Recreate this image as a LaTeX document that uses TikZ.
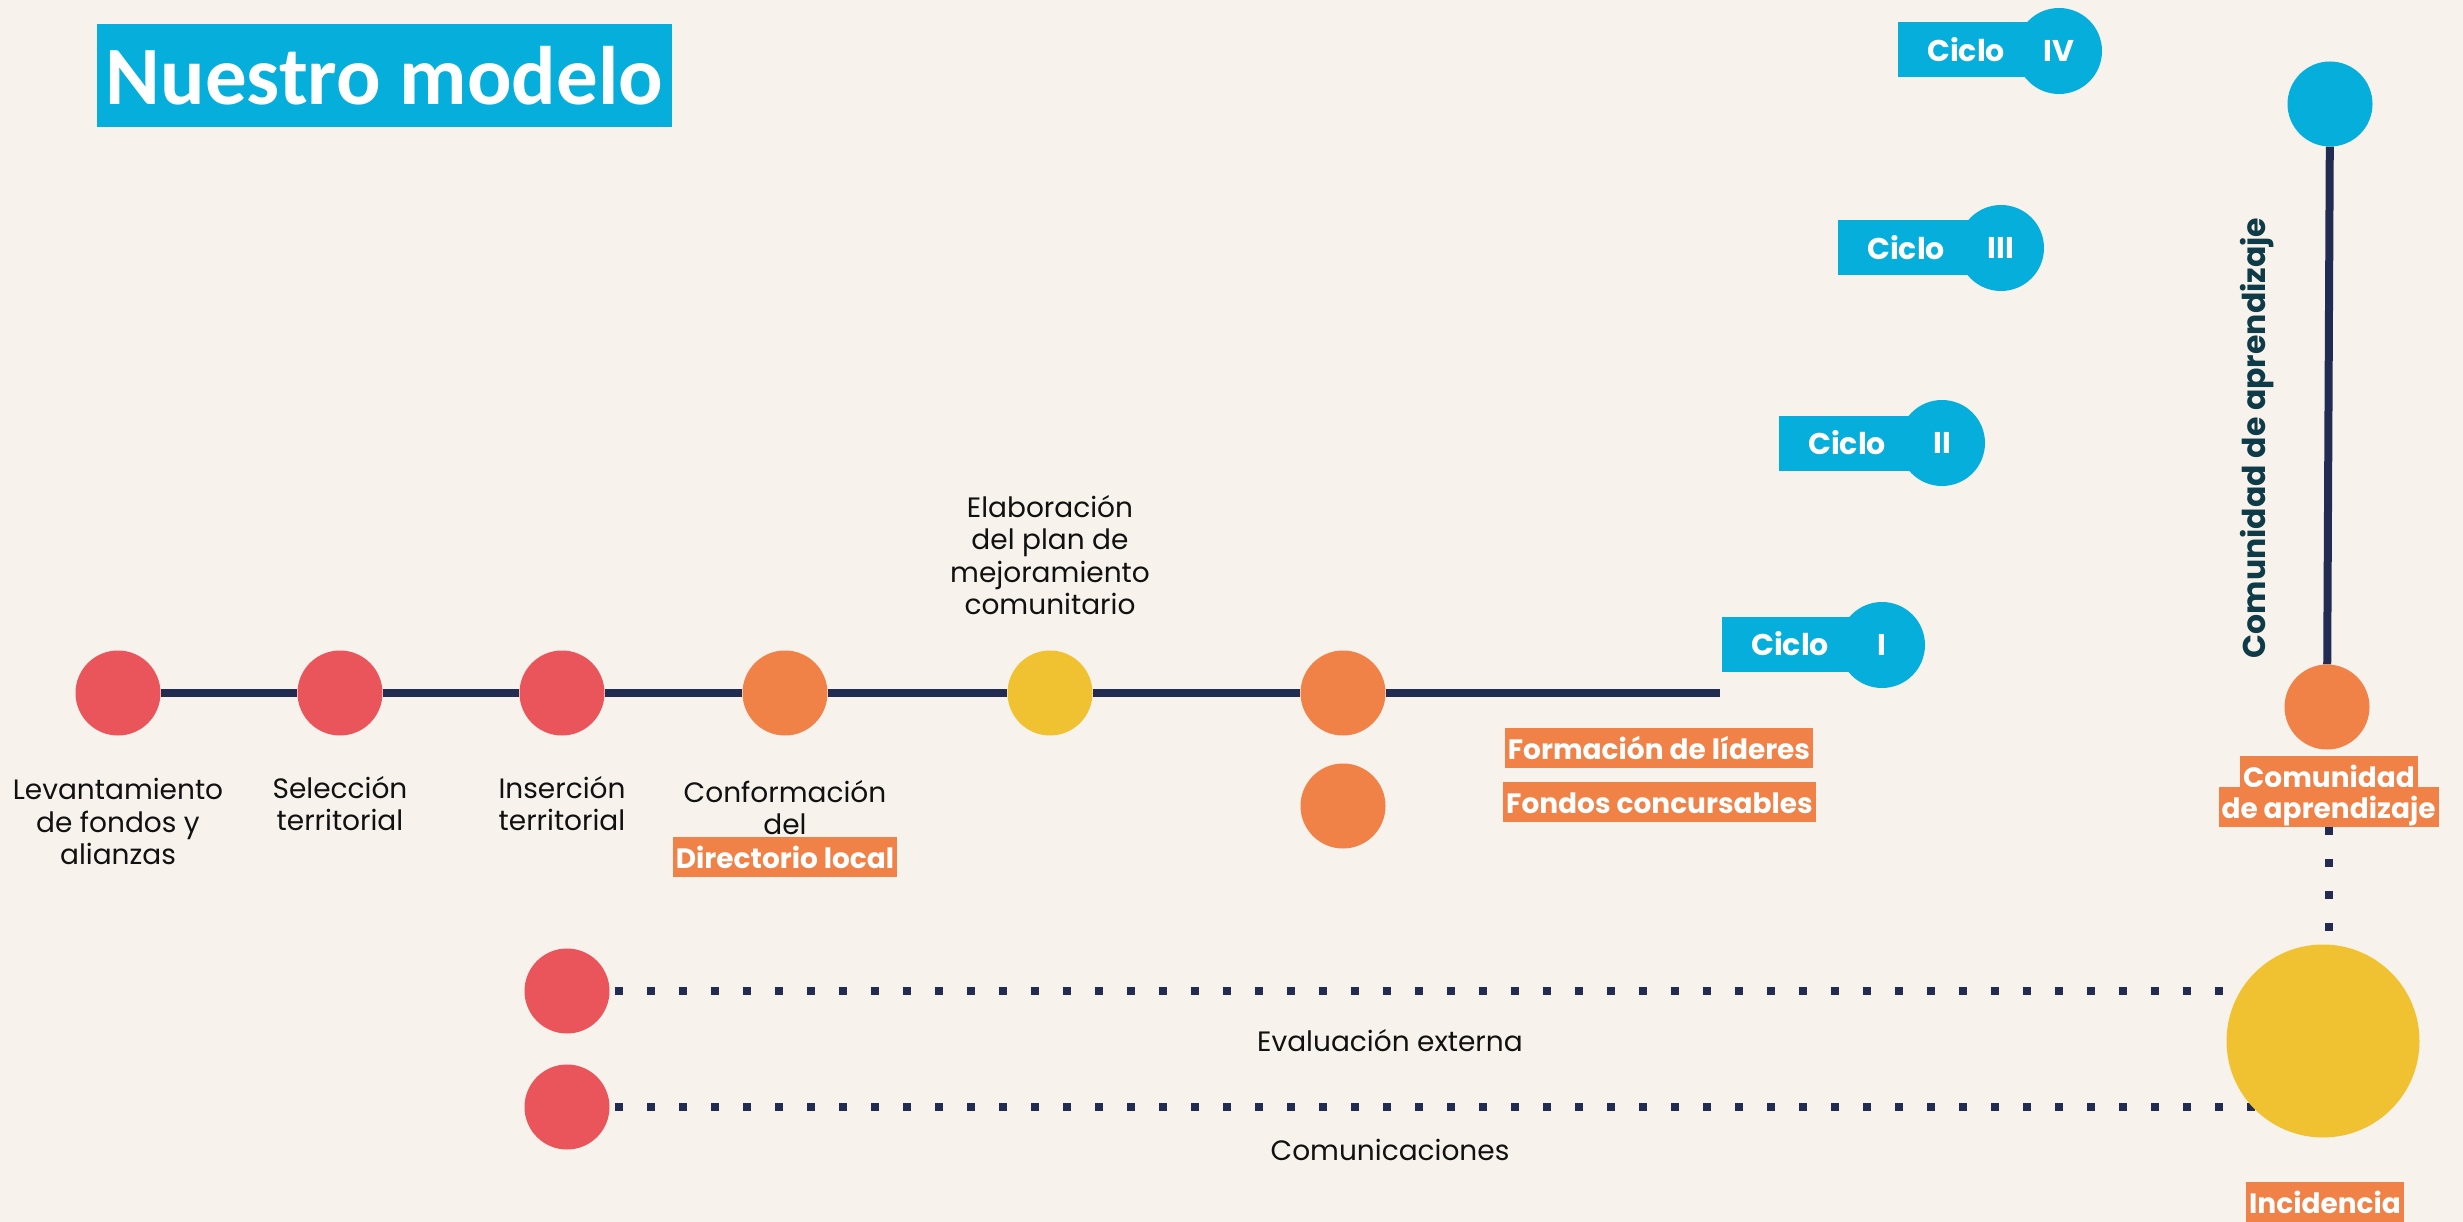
\documentclass[tikz,border=0pt]{standalone}
\usepackage{fontspec}
\setmainfont{Poppins}
\newfontfamily\carlito{Carlito}
\usetikzlibrary{backgrounds}
\definecolor{bg}{HTML}{F7F3EC}
\definecolor{cblue}{HTML}{05AEDB}
\definecolor{cred}{HTML}{E9555B}
\definecolor{corange}{HTML}{F08147}
\definecolor{cyellow}{HTML}{F0C232}
\definecolor{cnavy}{HTML}{222B52}
\definecolor{cteal}{HTML}{0E3B47}
\definecolor{ctext}{HTML}{111111}
\tikzset{
  dot/.style={circle, minimum size=85pt, inner sep=0},
  reddot/.style={dot, fill=cred},
  orangedot/.style={dot, fill=corange},
  yellowdot/.style={dot, fill=cyellow},
  bluedot/.style={dot, fill=cblue},
  lbl/.style={font=\fontsize{28}{32.5}\selectfont, align=center, inner sep=0, text=ctext},
  tag/.style={fill=corange, text=white, font=\bfseries\fontsize{28}{32}\selectfont, inner xsep=3pt, inner ysep=0, text height=31pt, text depth=9pt},
  link/.style={draw=cnavy, line width=8pt},
  dots/.style={draw=cnavy, line width=8pt, dash pattern=on 8pt off 24pt},
  cyclebox/.style={fill=cblue, anchor=west, minimum height=55pt, text width=170pt, inner xsep=0, inner ysep=0, align=left, text=white, font=\bfseries\fontsize{30}{30}\selectfont},
  cyclenum/.style={circle, fill=cblue, minimum size=86pt, inner sep=0, text=white, font=\bfseries\fontsize{30}{30}\selectfont},
}
\begin{document}
\begin{tikzpicture}[x=1pt, y=-1pt]
\useasboundingbox (0,0) rectangle (2463,1222);

% title
\node[fill=cblue, minimum width=575pt, minimum height=103pt, inner sep=0, text=white, font=\carlito\bfseries\fontsize{83}{83}\selectfont] (title) at (384.5,75.5) {Nuestro modelo};

% ciclos
\node[cyclebox] (b4) at (1898,50) {\hspace*{29pt}Ciclo};
\node[cyclenum] (n4) at (2059,51) {IV};
\node[cyclebox] (b3) at (1838,248) {\hspace*{29pt}Ciclo};
\node[cyclenum] (n3) at (2001,248) {III};
\node[cyclebox] (b2) at (1779,443) {\hspace*{29pt}Ciclo};
\node[cyclenum] (n2) at (1942,443) {II};
\node[cyclebox] (b1) at (1722,644) {\hspace*{29pt}Ciclo};
\node[cyclenum] (n1) at (1882,645) {I};

% main timeline
\node[reddot] (c1) at (118,693) {};
\node[reddot] (c2) at (340,693) {};
\node[reddot] (c3) at (562,693) {};
\node[orangedot] (c4) at (785,693) {};
\node[yellowdot] (c5) at (1050,693) {};
\node[orangedot] (c6) at (1343,693) {};
\node[orangedot] (c7) at (1343,806) {};
\coordinate (lend) at (1720,693);

\node[lbl, anchor=north] (t1) at (118,778) {Levantamiento\\de fondos y\\alianzas};
\node[lbl, anchor=north] (t2) at (340,776) {Selección\\territorial};
\node[lbl, anchor=north] (t3) at (562,776) {Inserción\\territorial};
\node[lbl, anchor=north] (t4) at (785,780) {Conformación\\del};
\node[tag, anchor=base] (dir) at (785,868) {Directorio local};
\node[lbl, anchor=north] (t5) at (1050,495) {Elaboración\\del plan de\\mejoramiento\\comunitario};

\node[tag, anchor=base] (form) at (1659,759) {Formación de líderes};
\node[tag, anchor=base] (fond) at (1659.5,813) {Fondos concursables};

% right column
\node[bluedot] (blT) at (2330,104) {};
\node[orangedot] (orR) at (2327,707) {};
\node[rotate=90, inner sep=0, text=cteal, font=\bfseries\fontsize{31.5}{31.5}\selectfont] (vtext) at (2257,438) {Comunidad de aprendizaje};
\node[tag, anchor=base] (com) at (2329,787) {Comunidad};
\node[tag, anchor=base] (apr) at (2328.5,818) {de aprendizaje};

% bottom
\node[reddot] (r1) at (567,991) {};
\node[reddot] (r2) at (567,1107) {};
\node[circle, fill=cyellow, minimum size=193pt, inner sep=0] (Y) at (2323,1041) {};
\node[lbl, anchor=base] (ev) at (1390,1051) {Evaluación externa};
\node[lbl, anchor=base] (cm) at (1390,1160) {Comunicaciones};
\node[tag, anchor=base] (inc) at (2325,1213) {Incidencia};

% background and connectors
\begin{scope}[on background layer]
\fill[bg] (0,0) rectangle (2463,1222);
\draw[link] (c1) -- (c2);
\draw[link] (c2) -- (c3);
\draw[link] (c3) -- (c4);
\draw[link] (c4) -- (c5);
\draw[link] (c5) -- (c6);
\draw[link] (c6) -- (lend);
\draw[link] (orR) -- (blT);
\draw[dots] ([xshift=5pt]r1.east) -- (r1.east -| Y.center);
\draw[dots] ([xshift=5pt]r2.east) -- (r2.east -| Y.center);
\draw[dots] (apr.south) -- (apr.south |- Y.north);
\end{scope}
\end{tikzpicture}
\end{document}
